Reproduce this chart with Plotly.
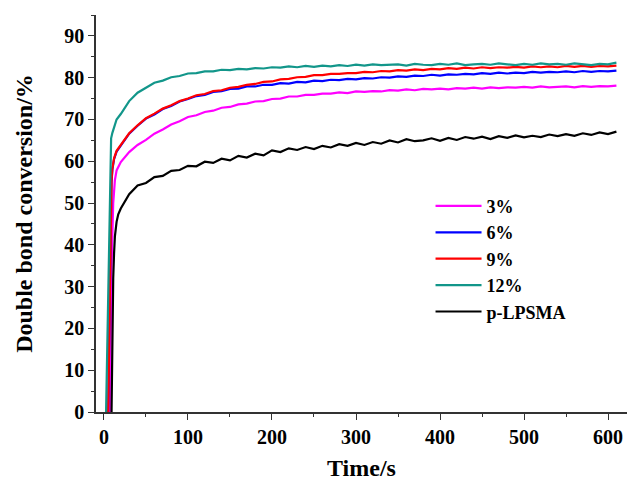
import plotly.graph_objects as go

# shared time grid (s) after the initial rise
t_main = list(range(20, 611, 10))

# initial rise portions (time, conversion)
t_early_3 = [7, 9, 11, 13, 15]
y_early_3 = [0, 35, 50, 55.5, 57.8]
t_early_6 = [5, 7, 9, 10, 12, 15]
y_early_6 = [0, 35, 55, 58, 60.5, 62.3]
t_early_9 = [5, 7, 9, 10, 12, 15]
y_early_9 = [0, 35, 55.5, 58.3, 60.7, 62.5]
t_early_12 = [2.5, 5, 8.5, 10, 12, 15]
y_early_12 = [0, 30, 65.5, 66.8, 68.3, 70.0]
t_early_p = [9, 10, 11, 12, 13, 15, 17]
y_early_p = [0, 20, 32, 38, 42, 45.5, 47.3]

y_3 = [59.8, 62.2, 63.9, 65.1, 66.6, 67.6, 68.8, 69.6, 70.6, 71.0,
       71.8, 72.1, 72.8, 73.0, 73.6, 73.8, 74.3, 74.4, 74.9, 75.0,
       75.5, 75.5, 75.9, 75.9, 76.2, 76.2, 76.5, 76.3, 76.7, 76.6,
       76.8, 76.7, 77.0, 76.9, 77.2, 77.0, 77.3, 77.2, 77.4, 77.2,
       77.5, 77.4, 77.6, 77.4, 77.7, 77.5, 77.7, 77.6, 77.8, 77.6,
       77.9, 77.7, 77.8, 77.9, 77.7, 78.0, 77.8, 78.0, 77.9, 78.1]
y_6 = [63.8, 66.6, 68.5, 70.2, 71.2, 72.5, 73.2, 74.3, 74.9, 75.6,
       75.9, 76.6, 76.8, 77.3, 77.4, 77.9, 77.9, 78.3, 78.3, 78.7,
       78.6, 79.0, 78.9, 79.3, 79.2, 79.5, 79.4, 79.7, 79.6, 79.9,
       79.8, 80.1, 80.0, 80.3, 80.2, 80.5, 80.4, 80.7, 80.5, 80.8,
       80.7, 80.9, 80.8, 81.1, 80.9, 81.2, 81.0, 81.2, 81.1, 81.4,
       81.2, 81.4, 81.3, 81.5, 81.3, 81.6, 81.4, 81.6, 81.5, 81.7]
y_9 = [63.9, 66.7, 68.6, 70.3, 71.4, 72.6, 73.4, 74.4, 75.0, 75.8,
       76.1, 76.8, 77.0, 77.6, 77.8, 78.3, 78.5, 79.0, 79.1, 79.6,
       79.7, 80.1, 80.2, 80.6, 80.6, 80.9, 80.9, 81.1, 81.1, 81.4,
       81.3, 81.6, 81.5, 81.8, 81.7, 82.0, 81.8, 82.1, 82.0, 82.3,
       82.1, 82.4, 82.2, 82.5, 82.3, 82.5, 82.4, 82.6, 82.4, 82.7,
       82.5, 82.7, 82.5, 82.8, 82.6, 82.8, 82.6, 82.8, 82.7, 82.9]
y_12 = [71.3, 74.4, 76.4, 77.6, 78.8, 79.3, 80.1, 80.4, 81.0, 81.1,
        81.5, 81.5, 81.9, 81.8, 82.1, 82.0, 82.3, 82.2, 82.5, 82.4,
        82.7, 82.5, 82.8, 82.6, 82.9, 82.7, 83.0, 82.8, 83.1, 82.9,
        83.2, 83.0, 83.1, 83.2, 82.9, 83.3, 83.1, 83.0, 83.3, 83.1,
        83.4, 83.0, 83.2, 83.3, 83.1, 83.4, 83.2, 83.0, 83.3, 83.1,
        83.4, 83.2, 83.3, 83.1, 83.4, 83.2, 83.0, 83.3, 83.2, 83.6]
y_p = [48.7, 52.1, 54.2, 54.8, 56.2, 56.5, 57.7, 57.9, 58.9, 58.8,
       59.9, 59.6, 60.6, 60.2, 61.3, 60.9, 61.8, 61.4, 62.6, 62.2,
       63.1, 62.7, 63.4, 62.9, 63.7, 63.3, 64.1, 63.7, 64.4, 63.9,
       64.6, 64.2, 65.0, 64.5, 65.3, 64.8, 65.0, 65.5, 64.9, 65.6,
       65.1, 65.8, 65.4, 65.9, 65.3, 66.0, 65.6, 66.2, 65.7, 66.1,
       65.8, 66.4, 66.0, 66.5, 66.1, 66.7, 66.3, 66.9, 66.5, 67.1]

names = ["3%", "6%", "9%", "12%", "p-LPSMA"]
colors = ["#ff00ff", "#0000ff", "#ff0000", "#12968a", "#000000"]
series = [
    (t_early_3, y_early_3, y_3),
    (t_early_6, y_early_6, y_6),
    (t_early_9, y_early_9, y_9),
    (t_early_12, y_early_12, y_12),
    (t_early_p, y_early_p, y_p),
]

FONT = "Liberation Serif"
fig = go.Figure()
for name, color, (te, ye, ym) in zip(names, colors, series):
    fig.add_trace(go.Scatter(
        x=te + t_main, y=ye + ym, mode="lines", name=name,
        line=dict(color=color, width=2.2),
    ))

axis_common = dict(
    showline=True, linecolor="#333333", linewidth=1.5,
    ticks="outside", ticklen=6, tickwidth=1.3, tickcolor="#333333",
    showgrid=False, zeroline=False,
    tickfont=dict(family=FONT, size=20, color="black", weight="bold"),
)

fig.update_xaxes(
    range=[-9.5, 622.6], dtick=100, tick0=0,
    minor=dict(ticks="outside", ticklen=3, dtick=50, tickcolor="#333333"),
    title=dict(text="Time/s", font=dict(family=FONT, size=24, color="black", weight="bold"), standoff=12),
    **axis_common,
)
fig.update_yaxes(
    range=[0, 95], dtick=10, tick0=0,
    minor=dict(ticks="outside", ticklen=3, dtick=5, tickcolor="#333333"),
    title=dict(text="Double bond conversion/%", font=dict(family=FONT, size=24, color="black", weight="bold"), standoff=25),
    **axis_common,
)

fig.update_layout(
    width=630, height=485,
    margin=dict(l=96, r=3, t=15, b=73),
    paper_bgcolor="white", plot_bgcolor="white",
    showlegend=True,
    legend=dict(
        x=0.63, y=0.565, xanchor="left", yanchor="top",
        font=dict(family=FONT, size=18, color="black", weight="bold"),
        itemwidth=46, bgcolor="rgba(0,0,0,0)",
    ),
)

fig.write_html("out.html")
